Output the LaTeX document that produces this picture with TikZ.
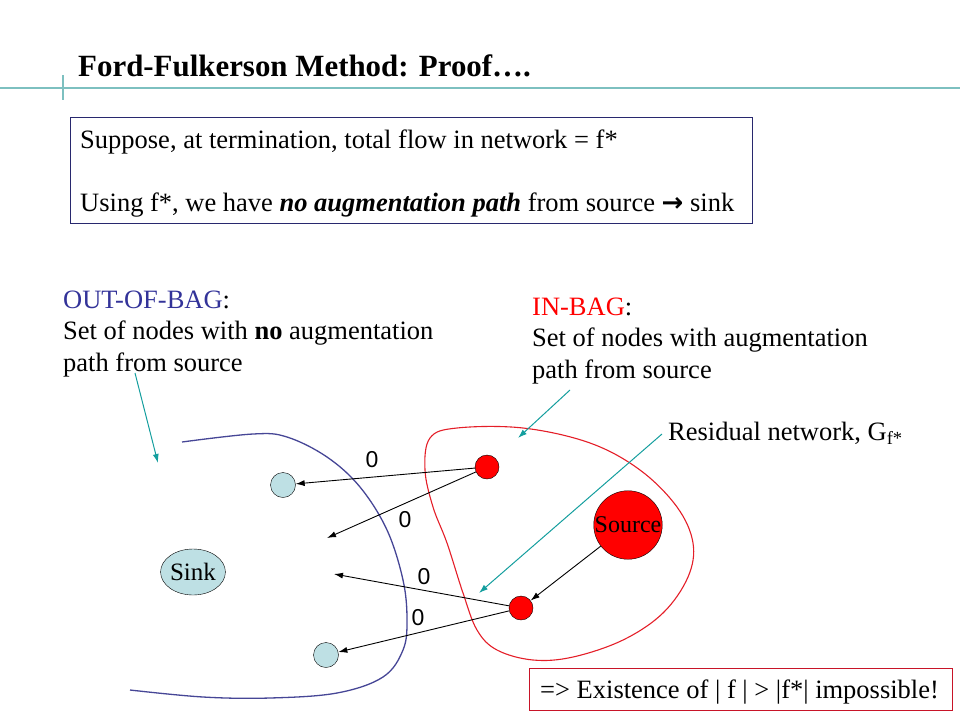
\documentclass[tikz,border=0pt]{standalone}
\usepackage{fontspec}
\setmainfont{Liberation Serif}
\newfontfamily\arial{Liberation Sans}
\newfontfamily\simboli{DejaVu Sans}
\usepackage{tikz}
\usetikzlibrary{arrows.meta, shapes.geometric}
\usepackage{xcolor}
\definecolor{verdeacqua}{RGB}{20,158,158}
\definecolor{lineatitolo}{RGB}{125,192,192}
\definecolor{blunotte}{RGB}{70,70,150}
\definecolor{blutesto}{RGB}{51,51,153}
\definecolor{bordoblu}{RGB}{40,40,110}
\definecolor{rossocurva}{RGB}{228,30,40}
\definecolor{bordorosso}{RGB}{200,20,40}
\definecolor{azzurrino}{RGB}{190,224,228}
\newcommand{\corpo}{\fontsize{26.5}{31.5}\selectfont}
\newcommand{\frecciaDx}{{\simboli\bfseries\fontsize{26}{30}\selectfont →}}

\begin{document}
\begin{tikzpicture}[x = 1pt, y = -1pt,
    nodoRosso/.style = {circle, draw, fill=red, minimum size=24pt, inner sep=0pt},
    nodoAzzurro/.style = {circle, draw, fill=azzurrino, minimum size=25pt, inner sep=0pt},
    testo/.style = {anchor=base west, inner sep=0pt, align=left, font=\corpo},
    zero/.style = {font=\arial\fontsize{23}{27}\selectfont, inner sep=0pt},
    arco/.style = {-{Latex[length=9pt, width=6pt]}, line width=0.9pt},
    indica/.style = {-{Latex[length=9pt, width=6pt]}, verdeacqua, line width=1pt}]
    % Parametri
    \pgfmathsetmacro{\larg}{960}
    \pgfmathsetmacro{\alt}{720}
    \useasboundingbox (0,0) rectangle (\larg,\alt);
    % Titolo
    \draw[lineatitolo, line width=2pt] (0,88) -- (\larg,88);
    \draw[lineatitolo, line width=2pt] (63,75) -- (63,100);
    \node[anchor=base west, inner sep=0pt, font=\bfseries\fontsize{30.9}{36}\selectfont] (titolo) at (78,76) {Ford-Fulkerson Method: Proof….};
    % Riquadro
    \draw[bordoblu, line width=1pt] (70,117) rectangle (752,223);
    \node[testo] (ipotesi) at (80,148) {Suppose, at termination, total flow in network = f*};
    \node[testo] (tesi) at (80,211) {Using f*, we have \textbf{\textit{no augmentation path}} from source \frecciaDx\ sink};
    % Insiemi (la base e' l'ultima riga)
    \node[testo] (fuori) at (63,371) {\textcolor{blutesto}{OUT-OF-BAG}:\\Set of nodes with \textbf{no} augmentation\\path from source};
    \node[testo] (dentro) at (532,378) {\textcolor{red}{IN-BAG}:\\Set of nodes with augmentation\\path from source};
    \node[testo] (residuo) at (668,440) {Residual network, G\textsubscript{f*}};
    % Curve
    \draw[blunotte, line width=1.3pt] plot[smooth, tension=0.6] coordinates {(182,442) (253,434) (287,437) (327,457) (360,487) (387,530) (403,580) (407,620) (403,650) (383,677) (337,693) (270,698) (203,697) (130,690)};
    \draw[rossocurva, line width=1.1pt] plot[smooth cycle, tension=0.6] coordinates {(430,438) (457,428) (523,428) (590,443) (640,470) (677,507) (693,543) (688,577) (663,613) (623,640) (573,657) (533,660) (497,650) (477,630) (463,593) (447,543) (433,507) (425,470)};
    % Nodi
    \node[nodoRosso] (r1) at (487,467) {};
    \node[nodoRosso] (r2) at (521,608) {};
    \node[circle, draw, fill=red, minimum size=64pt, inner sep=0pt, font=\fontsize{24}{28}\selectfont] (sorgente) at (628,525) {Source};
    \node[nodoAzzurro] (a1) at (283,485) {};
    \node[nodoAzzurro] (a2) at (326,655) {};
    \node[ellipse, draw, fill=azzurrino, minimum width=54pt, minimum height=46pt, inner sep=0pt, font=\fontsize{25}{29}\selectfont] (pozzo) at (193,572) {Sink};
    \coordinate (v1) at (327,538);
    \coordinate (v2) at (334,574);
    % Archi
    \draw[arco] (r1) -- (a1);
    \draw[arco] (r1) -- (v1);
    \draw[arco] (r2) -- (v2);
    \draw[arco] (r2) -- (a2);
    \draw[arco] (sorgente) -- (r2);
    \node[zero] (z1) at (372,460) {0};
    \node[zero] (z2) at (405,520) {0};
    \node[zero] (z3) at (424,577) {0};
    \node[zero] (z4) at (418,618) {0};
    % Frecce esplicative
    \coordinate (f1) at (135,373);
    \coordinate (f2) at (158,463);
    \coordinate (d1) at (570,390);
    \coordinate (d2) at (518,438);
    \coordinate (g1) at (662,434);
    \coordinate (g2) at (479,593);
    \draw[indica] (f1) -- (f2);
    \draw[indica] (d1) -- (d2);
    \draw[indica] (g1) -- (g2);
    % Conclusione
    \draw[bordorosso, line width=1pt] (529,668) rectangle (952,710);
    \node[testo] (conclusione) at (540,698) {=> Existence of | f | > |f*| impossible!};
\end{tikzpicture}
\end{document}
